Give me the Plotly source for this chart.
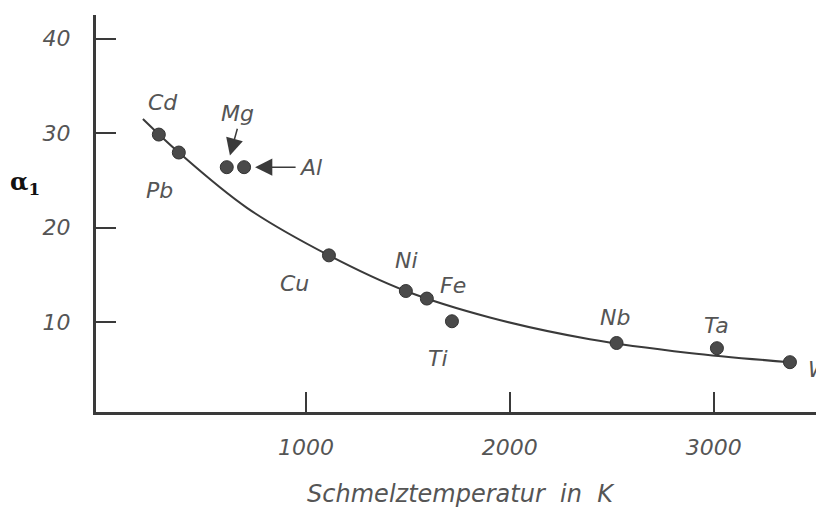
import plotly.graph_objects as go

# ---- data ----
elements = ["Cd", "Pb", "Mg", "Al", "Cu", "Ni", "Fe", "Ti", "Nb", "Ta", "W"]
melting_K = [279, 377, 612, 697, 1113, 1490, 1593, 1716, 2523, 3015, 3373]
alpha1 = [29.85, 27.95, 26.4, 26.4, 17.07, 13.3, 12.5, 10.1, 7.8, 7.25, 5.77]

curve_x = [201, 377, 711, 1113, 1490, 1902, 2392, 2880, 3373]
curve_y = [31.5, 27.95, 22.1, 17.07, 13.3, 10.5, 8.2, 6.75, 5.77]

x_ticks = [1000, 2000, 3000]
y_ticks = [10, 20, 30, 40]

x_title = "Schmelztemperatur  in  K"
y_title = "α<sub>1</sub>"

# ---- styling (pixel offsets of the labels from their points) ----
label_offsets = {
    "Cd": (4, 32, "center"), "Pb": (-19, -38, "center"), "Mg": (11, 54, "center"),
    "Al": (53, 0, "left"), "Cu": (-34, -28, "center"), "Ni": (1, 31, "center"),
    "Fe": (26, 13, "center"), "Ti": (-14, -37, "center"), "Nb": (-2, 26, "center"),
    "Ta": (0, 23, "center"), "W": (16, -7, "left"),
}
arrow_specs = {"Mg": (11, -40, 12), "Al": (53, 0, 11)}

ink = "#3a3a3a"
text_col = "#555555"
label_font = dict(family="DejaVu Sans", size=22, color=text_col, style="italic")
tick_font = dict(family="DejaVu Sans", size=22, color=text_col, style="italic")

fig = go.Figure()
fig.add_trace(go.Scatter(x=curve_x, y=curve_y, mode="lines",
                         line=dict(color=ink, width=2, shape="spline", smoothing=1.0),
                         hoverinfo="skip", showlegend=False))
fig.add_trace(go.Scatter(x=melting_K, y=alpha1, mode="markers",
                         marker=dict(size=13, color="#4a4a4a", line=dict(color="#333333", width=1)),
                         showlegend=False))

annotations = []
for el, xv, yv in zip(elements, melting_K, alpha1):
    dx, dy, anc = label_offsets[el]
    annotations.append(dict(x=xv, y=yv, text=el, showarrow=False, xshift=dx, yshift=dy,
                            xanchor=anc, yanchor="middle", font=label_font))
    if el in arrow_specs:
        ax, ay, so = arrow_specs[el]
        annotations.append(dict(x=xv, y=yv, text="", showarrow=True, ax=ax, ay=ay,
                                axref="pixel", ayref="pixel", arrowhead=2, arrowsize=2.3,
                                arrowwidth=1.5, arrowcolor=ink, standoff=so))

annotations.append(dict(xref="paper", yref="paper", x=-0.0975, y=0.577, text=y_title, showarrow=False,
                        font=dict(family="DejaVu Serif", size=24, color="#111111", weight="bold"),
                        xanchor="center", yanchor="middle"))

# the page body adds an 8px offset, so the figure is sized to fit the 824x509 window exactly
fig.update_layout(
    width=816, height=501,
    margin=dict(l=88, r=0, t=7, b=97, autoexpand=False),
    paper_bgcolor="white", plot_bgcolor="white",
    annotations=annotations,
    xaxis=dict(range=[-29, 3540], tickvals=x_ticks, ticks="inside", ticklen=20, tickwidth=1.5,
               tickcolor=ink, showline=True, linecolor=ink, linewidth=3, showgrid=False,
               zeroline=False, automargin=False, tickfont=tick_font,
               ticklabelstandoff=14,
               title=dict(text=x_title, standoff=26,
                          font=dict(family="DejaVu Sans", size=24, color=text_col, style="italic"))),
    yaxis=dict(range=[0.5, 42.5], tickvals=y_ticks, ticks="inside", ticklen=20, tickwidth=1.5,
               tickcolor=ink, showline=True, linecolor=ink, linewidth=3, showgrid=False,
               zeroline=False, automargin=False, tickfont=tick_font,
               ticklabelstandoff=18),
)

fig.write_html("out.html")
